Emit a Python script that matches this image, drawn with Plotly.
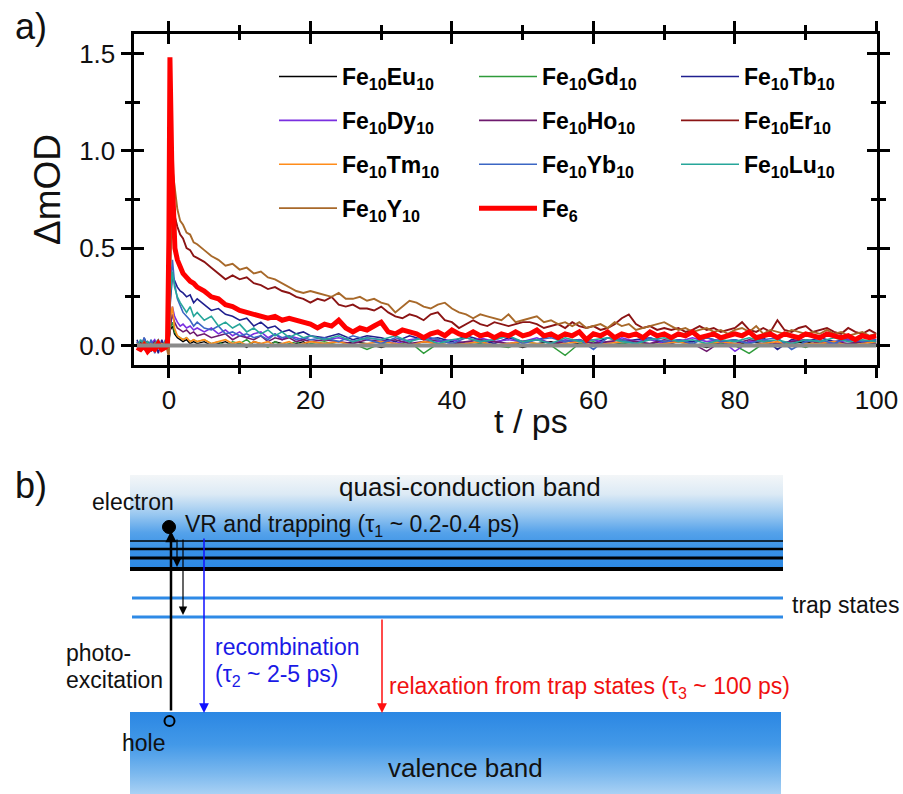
import plotly.graph_objects as go

W, H = 903, 794
F = "Liberation Sans, Arial, sans-serif"

# ---------------- data ----------------
t_main = [-4.5, -4, -3.5, -3, -2.5, -2, -1.5, -1, -0.5, -0.2,
          0, 0.15, 0.4, 0.6, 0.85, 1.2, 1.6, 2, 2.5, 3, 3.5, 4,
          5, 6, 7, 8, 9, 10,
          11, 12, 13, 14, 15, 16, 17, 18, 19, 20,
          21, 22, 23, 24, 25, 26, 27, 28, 29, 30,
          31, 32, 33, 34, 35, 36, 37, 38, 39, 40,
          41, 42, 43, 44, 45, 46, 47, 48, 49, 50,
          51, 52, 53, 54, 55, 56, 57, 58, 59, 60,
          61, 62, 63, 64, 65, 66, 67, 68, 69, 70,
          71, 72, 73, 74, 75, 76, 77, 78, 79, 80,
          81, 82, 83, 84, 85, 86, 87, 88, 89, 90,
          91, 92, 93, 94, 95, 96, 97, 98, 99, 100]

t_fast = [-4.5, -4, -3.5, -3, -2.5, -2, -1.5, -1, -0.5, -0.2,
          0, 0.2, 0.5, 0.8, 1.2, 1.6, 2, 2.5, 3, 3.5, 4,
          5, 6, 7, 8, 9, 10, 11, 12, 13, 14, 15, 16, 17, 18, 19, 20,
          22, 24, 26, 28, 30, 32, 34, 36, 38, 40,
          42, 44, 46, 48, 50, 52, 54, 56, 58, 60,
          62, 64, 66, 68, 70, 72, 74, 76, 78, 80,
          82, 84, 86, 88, 90, 92, 94, 96, 98, 100]

fe6 = [-0.01, -0.02, 0.0, -0.03, -0.01, -0.02, 0.01, -0.02, -0.01, 0.0,
       0.55, 1.48, 0.95, 0.66, 0.5, 0.44, 0.40, 0.37, 0.35, 0.33, 0.32, 0.30,
       0.28, 0.25, 0.24, 0.21, 0.20, 0.18,
       0.17, 0.16, 0.15, 0.14, 0.15, 0.13, 0.14, 0.13, 0.12, 0.11,
       0.09, 0.11, 0.10, 0.13, 0.09, 0.07, 0.09, 0.08, 0.10, 0.12,
       0.07, 0.06, 0.08, 0.07, 0.06, 0.04, 0.06, 0.07, 0.05, 0.08,
       0.06, 0.05, 0.07, 0.05, 0.06, 0.04, 0.06, 0.05, 0.07, 0.05,
       0.06, 0.08, 0.05, 0.06, 0.04, 0.06, 0.05, 0.07, 0.03, 0.06,
       0.05, 0.07, 0.04, 0.06, 0.05, 0.06, 0.04, 0.07, 0.05, 0.06,
       0.04, 0.06, 0.05, 0.07, 0.04, 0.05, 0.06, 0.04, 0.05, 0.06,
       0.05, 0.07, 0.04, 0.05, 0.06, 0.04, 0.06, 0.05, 0.04, 0.06,
       0.05, 0.04, 0.06, 0.05, 0.04, 0.05, 0.03, 0.05, 0.04, 0.05]

fe10_y = [0.01, -0.01, 0.02, 0.0, -0.02, 0.01, 0.0, -0.01, 0.02, -0.03,
          -0.06, 0.30, 0.75, 0.88, 0.80, 0.70, 0.64, 0.62, 0.58, 0.57, 0.53, 0.52,
          0.49, 0.46, 0.44, 0.41, 0.42, 0.39,
          0.40, 0.37, 0.38, 0.35, 0.34, 0.32, 0.30, 0.28, 0.27, 0.28,
          0.27, 0.26, 0.25, 0.27, 0.24, 0.24, 0.25, 0.23, 0.24, 0.22,
          0.21, 0.17, 0.20, 0.23, 0.22, 0.20, 0.19, 0.21, 0.22, 0.19,
          0.17, 0.16, 0.14, 0.16, 0.15, 0.14, 0.13, 0.16, 0.12, 0.13,
          0.14, 0.15, 0.12, 0.13, 0.11, 0.12, 0.10, 0.12, 0.09, 0.10,
          0.11, 0.09, 0.12, 0.10, 0.11, 0.08, 0.09, 0.10, 0.11, 0.12,
          0.10, 0.08, 0.09, 0.07, 0.08, 0.09, 0.07, 0.08, 0.06, 0.08,
          0.09, 0.07, 0.10, 0.06, 0.08, 0.07, 0.06, 0.08, 0.07, 0.06,
          0.07, 0.06, 0.08, 0.06, 0.07, 0.05, 0.06, 0.07, 0.05, 0.06]

fe10_er = [0.0, 0.02, -0.01, 0.01, 0.0, -0.02, 0.01, 0.0, -0.01, 0.0,
           0.05, 0.35, 0.68, 0.72, 0.66, 0.61, 0.57, 0.55, 0.50, 0.49, 0.46, 0.45,
           0.43, 0.40, 0.37, 0.34, 0.36, 0.34,
           0.35, 0.32, 0.31, 0.29, 0.30, 0.28, 0.27, 0.25, 0.24, 0.22,
           0.24, 0.23, 0.25, 0.21, 0.20, 0.21, 0.19, 0.19, 0.18, 0.20,
           0.17, 0.15, 0.14, 0.16, 0.15, 0.13, 0.16, 0.17, 0.13, 0.12,
           0.09, 0.11, 0.13, 0.11, 0.10, 0.12, 0.11, 0.10, 0.11, 0.12,
           0.12, 0.11, 0.09, 0.10, 0.11, 0.09, 0.12, 0.10, 0.09, 0.10,
           0.08, 0.09, 0.11, 0.14, 0.16, 0.11, 0.09, 0.10, 0.08, 0.09,
           0.08, 0.09, 0.07, 0.08, 0.10, 0.08, 0.09, 0.07, 0.08, 0.09,
           0.12, 0.08, 0.07, 0.09, 0.07, 0.13, 0.08, 0.07, 0.09, 0.10,
           0.07, 0.08, 0.09, 0.07, 0.06, 0.09, 0.07, 0.06, 0.08, 0.06]

fe10_eu = [0.01, -0.01, 0.0, 0.02, -0.01, 0.0, 0.01, -0.02, 0.0, 0.01,
           0.02, 0.08, 0.10, 0.06, 0.04, 0.03, 0.02, 0.03, 0.01, 0.02, 0.01,
           0.02, 0.0, 0.01, 0.02, 0.0, 0.01, -0.01, 0.02, 0.01, 0.0, 0.02, 0.01, 0.0, 0.01, 0.02, 0.0,
           0.01, 0.0, 0.02, 0.01, -0.01, 0.01, 0.0, 0.02, 0.01, 0.0,
           0.01, 0.02, 0.0, 0.01, -0.01, 0.01, 0.02, 0.0, 0.01, 0.0,
           0.02, 0.01, 0.0, 0.01, 0.02, 0.0, 0.01, -0.01, 0.01, 0.0,
           0.02, 0.01, 0.0, 0.01, 0.02, 0.0, 0.01, 0.0, 0.02, 0.01]

fe10_gd = [0.0, 0.02, -0.01, 0.01, 0.0, -0.02, 0.01, 0.0, 0.02, -0.01,
           0.02, 0.09, 0.12, 0.07, 0.05, 0.04, 0.03, 0.04, 0.02, 0.03, 0.02,
           0.03, 0.01, 0.02, 0.0, 0.02, 0.01, 0.03, 0.0, 0.01, -0.01, 0.02, 0.0, 0.01, 0.02, 0.0, 0.01,
           0.02, 0.0, 0.01, -0.02, 0.01, 0.0, 0.02, -0.04, 0.01, 0.0,
           0.02, 0.01, 0.0, -0.01, 0.02, 0.01, 0.0, -0.05, 0.01, 0.02,
           0.0, 0.01, 0.02, 0.0, 0.01, 0.02, 0.0, 0.01, 0.01, 0.0,
           -0.04, 0.01, 0.0, 0.01, -0.01, 0.02, 0.0, 0.01, 0.02, 0.01]

fe10_tb = [0.03, -0.02, 0.04, 0.0, -0.03, 0.02, -0.04, 0.03, -0.02, 0.0,
           0.05, 0.22, 0.36, 0.33, 0.30, 0.28, 0.27, 0.25, 0.26, 0.22, 0.24,
           0.21, 0.18, 0.19, 0.16, 0.15, 0.13, 0.14, 0.10, 0.12, 0.09, 0.10, 0.07, 0.08, 0.06, 0.07, 0.05,
           0.04, 0.06, 0.03, 0.05, 0.04, 0.02, 0.05, 0.03, 0.04, 0.02,
           0.05, 0.03, 0.01, 0.04, 0.02, 0.03, 0.05, 0.02, 0.03, 0.01,
           0.04, 0.02, 0.03, 0.04, 0.01, 0.03, 0.02, 0.04, 0.02, 0.03,
           0.01, 0.04, -0.02, 0.03, 0.02, 0.04, 0.02, 0.03, 0.02, 0.03]

fe10_dy = [-0.01, 0.02, 0.0, -0.02, 0.01, 0.03, -0.01, 0.0, 0.02, -0.01,
           0.03, 0.12, 0.20, 0.15, 0.12, 0.10, 0.11, 0.09, 0.10, 0.08, 0.09,
           0.07, 0.09, 0.06, 0.08, 0.05, 0.07, 0.04, 0.06, 0.07, 0.04, 0.06, 0.03, 0.05, 0.04, 0.03, 0.05,
           0.03, 0.04, 0.02, 0.04, 0.03, 0.01, 0.03, 0.04, 0.02, 0.03,
           0.01, 0.04, 0.02, 0.03, 0.02, 0.04, 0.01, 0.03, 0.02, 0.03,
           0.01, 0.04, 0.02, 0.03, 0.01, 0.02, 0.04, 0.02, 0.03, -0.03,
           0.02, 0.03, 0.01, 0.02, 0.03, 0.02, 0.01, 0.03, 0.02, 0.02]

fe10_ho = [0.02, 0.0, -0.02, 0.01, 0.0, 0.02, -0.01, 0.01, 0.0, 0.01,
           0.03, 0.10, 0.16, 0.12, 0.09, 0.08, 0.07, 0.08, 0.06, 0.07, 0.05,
           0.06, 0.04, 0.05, 0.06, 0.03, 0.05, 0.04, 0.03, 0.05, 0.02, 0.04, 0.03, 0.04, 0.02, 0.03, 0.02,
           0.03, 0.02, 0.01, 0.03, 0.02, 0.03, 0.01, 0.02, 0.03, 0.01,
           0.02, 0.03, 0.02, 0.01, 0.02, 0.03, 0.01, 0.02, 0.03, 0.01,
           0.02, 0.03, 0.02, 0.01, 0.03, 0.02, 0.01, -0.03, 0.02, 0.01,
           0.03, 0.02, 0.01, 0.02, 0.03, 0.01, 0.02, 0.01, 0.02, 0.01]

fe10_tm = [0.01, -0.01, 0.02, 0.0, 0.01, -0.02, 0.0, 0.01, -0.01, 0.0,
           0.02, 0.14, 0.20, 0.09, 0.05, 0.04, 0.03, 0.04, 0.02, 0.03, 0.02,
           0.03, 0.01, 0.02, 0.03, 0.01, 0.02, 0.0, 0.02, 0.01, 0.02, 0.0, 0.01, 0.02, 0.0, 0.01, 0.02,
           0.01, 0.02, 0.0, 0.01, 0.02, 0.01, 0.0, 0.02, 0.01, 0.0,
           0.01, 0.02, 0.0, 0.01, 0.02, 0.01, 0.0, 0.01, 0.02, 0.0,
           0.01, 0.02, 0.01, 0.0, 0.01, 0.02, 0.0, 0.01, 0.02, 0.01,
           0.0, 0.01, 0.02, 0.0, 0.01, 0.01, 0.02, 0.0, 0.01, 0.02]

fe10_yb = [0.02, -0.03, 0.04, -0.01, 0.03, -0.04, 0.02, -0.02, 0.03, -0.01,
           0.05, 0.30, 0.44, 0.32, 0.24, 0.20, 0.17, 0.15, 0.13, 0.10, 0.12,
           0.09, 0.08, 0.10, 0.06, 0.07, 0.05, 0.06, 0.04, 0.05, 0.03, 0.06, 0.04, 0.05, 0.03, 0.04, 0.03,
           0.04, 0.02, 0.05, 0.03, 0.01, 0.04, 0.02, 0.05, 0.03, 0.01,
           0.04, 0.02, 0.03, 0.05, 0.01, 0.03, 0.04, 0.02, 0.03, -0.02,
           0.04, 0.03, 0.01, 0.04, 0.02, 0.03, 0.01, 0.04, 0.02, 0.03,
           0.01, 0.03, 0.04, -0.02, 0.02, 0.03, 0.01, 0.04, 0.02, 0.03]

fe10_lu = [-0.01, 0.03, 0.0, 0.02, -0.02, 0.01, 0.03, -0.01, 0.0, 0.02,
           0.04, 0.25, 0.38, 0.30, 0.25, 0.22, 0.20, 0.17, 0.20, 0.15, 0.17,
           0.13, 0.15, 0.10, 0.12, 0.09, 0.11, 0.07, 0.09, 0.06, 0.08, 0.05, 0.07, 0.04, 0.06, 0.04, 0.05,
           0.03, 0.05, 0.02, 0.04, 0.03, 0.05, 0.02, 0.04, 0.01, 0.03,
           0.04, 0.02, 0.03, 0.05, 0.02, 0.03, 0.01, 0.04, 0.02, 0.03,
           0.04, 0.02, 0.01, 0.03, 0.04, 0.02, 0.03, 0.01, 0.03, 0.02,
           0.04, 0.02, 0.03, 0.01, 0.03, 0.02, 0.04, 0.02, 0.03, 0.02]

series_names = ["Fe<sub>10</sub>Eu<sub>10</sub>", "Fe<sub>10</sub>Gd<sub>10</sub>", "Fe<sub>10</sub>Tb<sub>10</sub>",
                "Fe<sub>10</sub>Dy<sub>10</sub>", "Fe<sub>10</sub>Ho<sub>10</sub>", "Fe<sub>10</sub>Er<sub>10</sub>",
                "Fe<sub>10</sub>Tm<sub>10</sub>", "Fe<sub>10</sub>Yb<sub>10</sub>", "Fe<sub>10</sub>Lu<sub>10</sub>",
                "Fe<sub>10</sub>Y<sub>10</sub>", "Fe<sub>6</sub>"]
series_x = [t_fast, t_fast, t_fast, t_fast, t_fast, t_main, t_fast, t_fast, t_fast, t_main, t_main]
series_y = [fe10_eu, fe10_gd, fe10_tb, fe10_dy, fe10_ho, fe10_er, fe10_tm, fe10_yb, fe10_lu, fe10_y, fe6]

# ---------------- styling ----------------
colors = ["#000000", "#2E9B3A", "#1F1F8F", "#7A2FE0", "#6E1A6E", "#8B1414",
          "#FF8C1A", "#3B66C4", "#26A69A", "#A8692A", "#FF0000"]
widths = [1.4, 1.4, 1.6, 1.6, 1.6, 1.9, 1.6, 1.6, 1.6, 1.9, 5]
legend_of = ["legend", "legend2", "legend3"] * 3 + ["legend", "legend2"]

def px(x):
    return x / W

def py(y):
    return 1 - y / H

fig = go.Figure()
for i in range(len(series_names)):
    fig.add_trace(go.Scatter(
        x=series_x[i], y=series_y[i], mode="lines", name="<b>" + series_names[i] + "</b>",
        line=dict(color=colors[i], width=widths[i]),
        legend=legend_of[i], legendgroup="g%d" % i, hoverinfo="skip"))

# overlay axes for inward ticks (ticks crossing the frame)
fig.add_trace(go.Scatter(x=[None], y=[None], xaxis="x3", yaxis="y3", showlegend=False, hoverinfo="skip"))

xdom = [px(133.5), px(876.5)]
ydom = [py(365), py(34)]
tickfont = dict(family=F, size=26, color="#111")

fig.update_layout(
    width=W, height=H, autosize=False, margin=dict(l=0, r=0, t=0, b=0, autoexpand=False),
    paper_bgcolor="white", plot_bgcolor="rgba(0,0,0,0)",
    font=dict(family=F, color="black"),
    xaxis=dict(domain=xdom, range=[-5, 100], anchor="y", showgrid=False, zeroline=False,
               showline=True, linecolor="black", linewidth=3, mirror="ticks",
               ticks="outside", ticklen=10, tickwidth=3, tickcolor="black", tick0=0, dtick=20,
               minor=dict(tick0=0, dtick=10, ticks="outside", ticklen=6, tickwidth=3, tickcolor="black"),
               tickfont=tickfont),
    yaxis=dict(domain=ydom, range=[-0.1, 1.6], anchor="x", showgrid=False, zeroline=False,
               showline=True, linecolor="black", linewidth=3, mirror="ticks",
               ticks="outside", ticklen=10, tickwidth=3, tickcolor="black", tick0=0, dtick=0.5,
               tickformat=".1f",
               minor=dict(tick0=0, dtick=0.25, ticks="outside", ticklen=6, tickwidth=3, tickcolor="black"),
               tickfont=tickfont),
    xaxis3=dict(overlaying="x", anchor="y3", range=[-5, 100], showgrid=False, zeroline=False,
                showline=True, linecolor="black", linewidth=3, mirror="ticks",
                ticks="inside", ticklen=10, tickwidth=3, tickcolor="black", tick0=0, dtick=20,
                minor=dict(tick0=0, dtick=10, ticks="inside", ticklen=6, tickwidth=3, tickcolor="black"),
                showticklabels=False),
    yaxis3=dict(overlaying="y", anchor="x3", range=[-0.1, 1.6], showgrid=False, zeroline=False,
                showline=True, linecolor="black", linewidth=3, mirror="ticks",
                ticks="inside", ticklen=10, tickwidth=3, tickcolor="black", tick0=0, dtick=0.5,
                minor=dict(tick0=0, dtick=0.25, ticks="inside", ticklen=6, tickwidth=3, tickcolor="black"),
                showticklabels=False),
    xaxis2=dict(domain=[0, 1], range=[0, W], anchor="y2", visible=False),
    yaxis2=dict(domain=[0, py(440)], range=[H, 440], anchor="x2", visible=False),
    showlegend=True,
)

leg_common = dict(xanchor="left", yanchor="top", bgcolor="rgba(0,0,0,0)", borderwidth=0,
                  font=dict(family=F, size=23, color="black"), itemwidth=58, tracegroupgap=11,
                  itemclick=False, itemdoubleclick=False)
fig.update_layout(
    legend=dict(x=px(274), y=py(55), **leg_common),
    legend2=dict(x=px(474), y=py(55), **leg_common),
    legend3=dict(x=px(676), y=py(55), **leg_common),
)

# zero baseline (grey)
fig.add_shape(type="line", xref="x", yref="y", x0=-4.5, x1=100, y0=0, y1=0,
              line=dict(color="#8A8A8A", width=4), layer="above")

# panel a labels
fig.add_annotation(xref="paper", yref="paper", x=px(13), y=py(27), xanchor="left", yanchor="middle",
                   text="a)", showarrow=False, font=dict(family=F, size=36, color="#111"))
fig.add_annotation(xref="paper", yref="paper", x=px(48), y=py(190), textangle=-90,
                   xanchor="center", yanchor="middle", text="ΔmOD", showarrow=False,
                   font=dict(family=F, size=37, color="#111"))
fig.add_annotation(xref="paper", yref="paper", x=px(531), y=py(421), xanchor="center", yanchor="middle",
                   text="t / ps", showarrow=False, font=dict(family=F, size=34, color="#111"))

# ---------------- panel b: energy diagram ----------------
def band(x0, x1, y0, y1, cscale):
    fig.add_trace(go.Scatter(
        x=[x0, x1, x1, x0, x0], y=[y0, y0, y1, y1, y0], xaxis="x2", yaxis="y2",
        mode="lines", line=dict(width=0, color="rgba(0,0,0,0)"), fill="toself",
        fillgradient=dict(type="vertical", colorscale=cscale, start=y0, stop=y1),
        showlegend=False, hoverinfo="skip"))

band(130, 783, 475, 571, [[0, "#F3F6F8"], [0.2, "#DCEAF5"], [0.42, "#96C6F0"],
                          [0.6, "#55A2EA"], [0.78, "#3891E6"], [1, "#2B87E3"]])
band(130, 781, 712, 794, [[0, "#2B87E3"], [0.4, "#4399E8"], [0.75, "#7BB8EE"], [1, "#A9D1F4"]])

def hline(y, w, color, x0=130, x1=783):
    fig.add_shape(type="line", xref="x2", yref="y2", x0=x0, x1=x1, y0=y, y1=y,
                  line=dict(color=color, width=w), layer="above")

hline(541, 1.5, "black")
hline(549, 2.5, "black")
hline(558, 3, "black")
hline(569, 4, "black")
hline(598, 3, "#2E8AE6", x0=132)
hline(617, 3, "#2E8AE6", x0=132)

def arrow(x, ytail, yhead, color, w, size=1.0):
    fig.add_annotation(xref="x2", yref="y2", axref="x2", ayref="y2", x=x, y=yhead, ax=x, ay=ytail,
                       text="", showarrow=True, arrowhead=2, arrowsize=size, arrowwidth=w,
                       arrowcolor=color, standoff=0, startstandoff=0)

arrow(171, 712, 531, "black", 2.5, 0.9)
arrow(177, 538, 567, "black", 1.2, 1.4)
arrow(183, 538, 615, "black", 1.2, 1.4)
arrow(204, 537, 713, "#1010FF", 1.5, 1.3)
arrow(382, 618, 713, "#FF1010", 1.5, 1.3)

fig.add_shape(type="circle", xref="x2", yref="y2", x0=162.5, x1=175.5, y0=520.5, y1=533.5,
              fillcolor="black", line=dict(color="black", width=1), layer="above")
fig.add_shape(type="circle", xref="x2", yref="y2", x0=164.5, x1=174.5, y0=716, y1=726,
              fillcolor="rgba(0,0,0,0)", line=dict(color="black", width=2), layer="above")

def label(x, y, text, size=23, color="#111", anchor="left"):
    fig.add_annotation(xref="x2", yref="y2", x=x, y=y, text=text, showarrow=False,
                       xanchor=anchor, yanchor="middle", font=dict(family=F, size=size, color=color))

label(13, 485, "b)", size=36)
label(470, 487, "quasi-conduction band", size=26, anchor="center")
label(90, 502, "electron")
label(183, 525, "VR and trapping (τ<sub>1</sub> ~ 0.2-0.4 ps)")
label(790, 605, "trap states")
label(213, 647, "recombination", color="#1A1AE6")
label(213, 675, "(τ<sub>2</sub> ~ 2-5 ps)", color="#1A1AE6")
label(387, 687, "relaxation from trap states (τ<sub>3</sub> ~ 100 ps)", color="#F01010")
label(64, 653, "photo-")
label(64, 680, "excitation")
label(120, 743, "hole")
label(465, 768, "valence band", size=26, anchor="center")

fig.write_html(
    "out.html",
    config={"responsive": False, "displayModeBar": False},
    post_script="document.body.style.margin='0px';document.body.style.overflow='hidden';",
)
